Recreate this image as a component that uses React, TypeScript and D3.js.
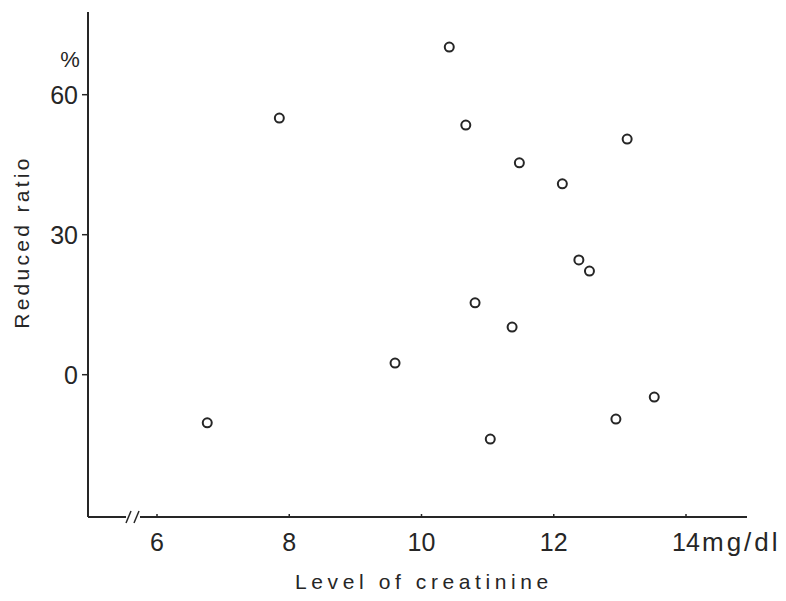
import React, { useRef, useEffect } from "react";
import * as d3 from "d3";

// creatinine level (mg/dl) vs reduced ratio (%)
const creatinine = [6.76, 7.85, 9.6, 10.42, 10.67, 10.81, 11.04, 11.37, 11.48, 12.13, 12.38, 12.54, 12.94, 13.11, 13.52];
const reducedRatio = [-10.3, 55.0, 2.5, 70.2, 53.5, 15.4, -13.8, 10.2, 45.4, 40.9, 24.6, 22.2, -9.5, 50.5, -4.8];
const xTicks = [6, 8, 10, 12, 14];
const yTicks = [0, 30, 60];

const App = () => {
  const svgRef = useRef<SVGSVGElement>(null);

  useEffect(() => {
    const svg = d3.select(svgRef.current);
    svg.selectAll("*").remove();

    const ink = "#262626";
    const font = "'Liberation Sans', Arial, sans-serif";

    const left = 88;
    const right = 747;
    const top = 12;
    const bottom = 517;

    const x = d3.scaleLinear().domain([6, 14]).range([157, 686]);
    const y = d3.scaleLinear().domain([0, 60]).range([374.7, 94.7]);

    // y axis
    svg
      .append("line")
      .attr("x1", left)
      .attr("x2", left)
      .attr("y1", top)
      .attr("y2", bottom)
      .attr("stroke", ink)
      .attr("stroke-width", 2);

    const yAxis = svg.append("g");
    yAxis
      .selectAll("line")
      .data(yTicks)
      .enter()
      .append("line")
      .attr("x1", left - 6)
      .attr("x2", left)
      .attr("y1", (d) => y(d))
      .attr("y2", (d) => y(d))
      .attr("stroke", ink)
      .attr("stroke-width", 1.5);

    yAxis
      .selectAll("text")
      .data(yTicks)
      .enter()
      .append("text")
      .attr("x", left - 10)
      .attr("y", (d) => y(d))
      .attr("dy", "0.36em")
      .attr("text-anchor", "end")
      .attr("font-family", font)
      .attr("font-size", 25)
      .attr("fill", ink)
      .text((d) => d);

    svg
      .append("text")
      .attr("x", 70)
      .attr("y", 67)
      .attr("text-anchor", "middle")
      .attr("font-family", font)
      .attr("font-size", 22)
      .attr("fill", ink)
      .text("%");

    // x axis with break mark
    svg
      .append("line")
      .attr("x1", left)
      .attr("x2", right)
      .attr("y1", bottom)
      .attr("y2", bottom)
      .attr("stroke", ink)
      .attr("stroke-width", 2);

    svg
      .append("rect")
      .attr("x", 126)
      .attr("y", bottom - 4)
      .attr("width", 14)
      .attr("height", 8)
      .attr("fill", "white");

    [126, 134].forEach((bx) => {
      svg
        .append("line")
        .attr("x1", bx)
        .attr("x2", bx + 5)
        .attr("y1", bottom + 6)
        .attr("y2", bottom - 6)
        .attr("stroke", ink)
        .attr("stroke-width", 1.5);
    });

    const xAxis = svg.append("g");
    xAxis
      .selectAll("line")
      .data(xTicks)
      .enter()
      .append("line")
      .attr("x1", (d) => x(d))
      .attr("x2", (d) => x(d))
      .attr("y1", bottom)
      .attr("y2", bottom - 3)
      .attr("stroke", ink)
      .attr("stroke-width", 1.5);

    xAxis
      .selectAll("text")
      .data(xTicks)
      .enter()
      .append("text")
      .attr("x", (d) => x(d))
      .attr("y", 551)
      .attr("text-anchor", "middle")
      .attr("font-family", font)
      .attr("font-size", 25)
      .attr("fill", ink)
      .text((d) => d);

    svg
      .append("text")
      .attr("x", x(14) + 16)
      .attr("y", 551)
      .attr("font-family", font)
      .attr("font-size", 26)
      .attr("letter-spacing", 3)
      .attr("fill", ink)
      .text("mg/dl");

    // axis titles
    svg
      .append("text")
      .attr("x", 295)
      .attr("y", 589)
      .attr("font-family", font)
      .attr("font-size", 21)
      .attr("letter-spacing", 4.6)
      .attr("fill", ink)
      .text("Level of  creatinine");

    svg
      .append("text")
      .attr("transform", "translate(29,242) rotate(-90)")
      .attr("text-anchor", "middle")
      .attr("font-family", font)
      .attr("font-size", 21)
      .attr("letter-spacing", 3.3)
      .attr("fill", ink)
      .text("Reduced ratio");

    // points
    svg
      .append("g")
      .selectAll("circle")
      .data(creatinine.map((c, i) => ({ c, r: reducedRatio[i] })))
      .enter()
      .append("circle")
      .attr("cx", (d) => x(d.c))
      .attr("cy", (d) => y(d.r))
      .attr("r", 4.5)
      .attr("fill", "white")
      .attr("stroke", ink)
      .attr("stroke-width", 2);
  }, []);

  return (
    <svg
      ref={svgRef}
      width={786}
      height={601}
      style={{ position: "absolute", left: 0, top: 0, background: "white" }}
    />
  );
};

export default App;
